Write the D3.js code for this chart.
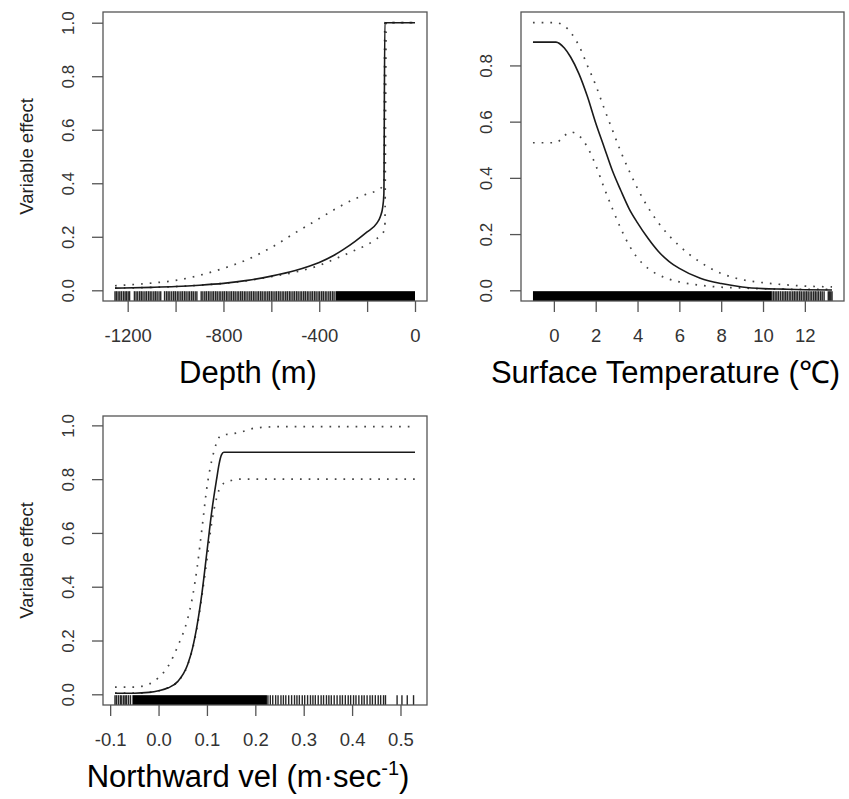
<!DOCTYPE html>
<html>
<head>
<meta charset="utf-8">
<script src="https://cdn.jsdelivr.net/npm/d3@7"></script>
<style>
  html, body { margin: 0; padding: 0; background: #fff; }
  svg { display: block; font-family: "Liberation Sans", Arial, Helvetica, sans-serif; }
</style>
</head>
<body>
<svg id="chart" width="849" height="799"></svg>
<script>
// ---------------- Panel 1: Depth ----------------
const depthX     = [-1253,-1100,-1000,-900,-800,-700,-600,-500,-400,-340,-300,-250,-200,-160,-145,-135,-130,-126,-120,-60,0];
const depthFit   = [0.008,0.011,0.014,0.019,0.026,0.037,0.053,0.074,0.104,0.130,0.152,0.183,0.218,0.250,0.275,0.310,0.360,1,1,1,1];
const depthLower = [0.008,0.011,0.014,0.019,0.026,0.036,0.051,0.068,0.093,0.115,0.130,0.150,0.170,0.193,0.203,0.213,0.220,0.230,1,1,1];
const depthUpper = [0.017,0.027,0.037,0.056,0.082,0.115,0.160,0.215,0.268,0.300,0.320,0.342,0.360,0.372,0.380,0.390,0.400,1,1,1,1];
const depthTicks  = [-1200,-1000,-800,-600,-400,-200,0];
const depthLabels = [-1200,-800,-400,0];
const depthRug = [-1253,-1247,-1240,-1233,-1226,-1218,-1211,-1205,-1198,-1192,-1172,-1165,-1158,-1150,-1143,-1136,-1128,-1121,-1113,-1106,-1099,-1091,-1084,-1077,-1069,-1062,-1046,-1038,-1031,-1024,-1016,-1008,-1001,-993,-986,-978,-971,-963,-956,-948,-941,-933,-926,-918,-911,-893,-886,-878,-871,-863,-856,-848,-841,-833,-826,-818,-811,-803,-796,-788,-781,-773,-766,-758,-751,-743,-736,-728,-721,-713,-706,-698,-690,-683,-675,-668,-660,-653,-645,-638,-630,-623,-615,-608,-600,-593,-585,-578,-570,-563,-555,-548,-540,-533,-525,-518,-510,-503,-495,-488,-480,-473,-465,-458,-450,-443,-435,-428,-420,-413,-405,-398,-390,-383,-375,-368,-360,-353,-345,-338];
const depthRugBands = [[-332, 0]];

// ---------------- Panel 2: Surface temperature ----------------
const tempX     = [-1,0.1,0.5,0.8,1.2,1.6,2.0,2.4,2.8,3.2,3.6,4.0,4.5,5.0,5.5,6,7,8,9,10,11,12,13.3];
const tempFit   = [0.883,0.883,0.862,0.830,0.770,0.690,0.595,0.510,0.425,0.355,0.290,0.240,0.185,0.138,0.103,0.078,0.043,0.024,0.012,0.006,0.004,0.002,0.001];
const tempLower = [0.525,0.525,0.550,0.563,0.550,0.510,0.445,0.365,0.290,0.220,0.160,0.115,0.078,0.055,0.040,0.030,0.018,0.011,0.008,0.005,0.004,0.003,0.003];
const tempUpper = [0.952,0.952,0.940,0.918,0.870,0.800,0.730,0.648,0.570,0.493,0.425,0.362,0.295,0.240,0.195,0.158,0.100,0.060,0.038,0.027,0.020,0.015,0.012];
const tempTicks  = [0,2,4,6,8,10,12];
const tempLabels = [0,2,4,6,8,10,12];
const tempRug = [10.42,10.5,10.58,10.66,10.74,10.83,10.92,11.0,11.08,11.16,11.25,11.33,11.42,11.5,11.58,11.66,11.75,11.83,11.92,12.0,12.08,12.16,12.25,12.33,12.42,12.5,12.58,12.66,12.75,12.83,12.92,13.12,13.18,13.24,13.3];
const tempRugBands = [[-1, 10.4]];

// ---------------- Panel 3: Northward velocity ----------------
const velX     = [-0.09,-0.05,-0.02,0,0.02,0.04,0.06,0.07,0.08,0.09,0.10,0.11,0.12,0.125,0.13,0.135,0.15,0.17,0.20,0.25,0.53];
const velFit   = [0.004,0.004,0.007,0.013,0.024,0.048,0.110,0.170,0.260,0.380,0.530,0.680,0.800,0.855,0.890,0.900,0.900,0.900,0.900,0.900,0.900];
const velLower = [0.004,0.004,0.007,0.013,0.024,0.048,0.108,0.166,0.252,0.370,0.500,0.640,0.730,0.760,0.775,0.785,0.795,0.800,0.800,0.800,0.800];
const velUpper = [0.027,0.027,0.038,0.062,0.105,0.180,0.280,0.360,0.475,0.620,0.770,0.870,0.935,0.955,0.963,0.965,0.968,0.975,0.990,0.995,0.995];
const velTicks  = [-0.1,0,0.1,0.2,0.3,0.4,0.5];
const velLabels = [-0.1,0,0.1,0.2,0.3,0.4,0.5];
const velRug = [-0.09,-0.087,-0.083,-0.079,-0.076,-0.072,-0.069,-0.066,-0.062,-0.058,0.226,0.231,0.236,0.242,0.247,0.253,0.258,0.263,0.269,0.275,0.281,0.286,0.291,0.297,0.302,0.308,0.314,0.319,0.324,0.330,0.336,0.341,0.347,0.352,0.357,0.363,0.369,0.375,0.380,0.386,0.392,0.397,0.403,0.408,0.414,0.420,0.425,0.431,0.437,0.442,0.448,0.454,0.459,0.465,0.469,0.493,0.503,0.514,0.527];
const velRugBands = [[-0.054, 0.224]];

const yTicks5 = [0,0.2,0.4,0.6,0.8,1.0];
const yTicks4 = [0,0.2,0.4,0.6,0.8];

const panels = [
  { left:103, top:12, w:324, h:289, xs:depthX, fit:depthFit, lower:depthLower, upper:depthUpper,
    xTicks:depthTicks, xLabels:depthLabels, fmt:d=>String(d), yTicks:yTicks5,
    rug:depthRug, bands:depthRugBands, title:[{t:"Depth (m)"}], ylab:true },
  { left:521, top:12, w:323, h:289, xs:tempX, fit:tempFit, lower:tempLower, upper:tempUpper,
    xTicks:tempTicks, xLabels:tempLabels, fmt:d=>String(d), yTicks:yTicks4,
    rug:tempRug, bands:tempRugBands, title:[{t:"Surface Temperature (\u2103)"}], ylab:false },
  { left:103, top:416, w:324, h:289, xs:velX, fit:velFit, lower:velLower, upper:velUpper,
    xTicks:velTicks, xLabels:velLabels, fmt:d=>d.toFixed(1), yTicks:yTicks5,
    rug:velRug, bands:velRugBands, title:[{t:"Northward vel (m\u00B7sec"},{t:"-1",sup:true},{t:")",after:true}], ylab:true }
];

const svg = d3.select("#chart");
svg.append("rect").attr("width",849).attr("height",799).attr("fill","#fff");

function pad(ext){ const d=(ext[1]-ext[0])*0.04; return [ext[0]-d, ext[1]+d]; }

panels.forEach(p => {
  const xExt = d3.extent(p.xs);
  const yExt = [0, d3.max(p.upper)];
  const x = d3.scaleLinear().domain(pad(xExt)).range([p.left, p.left+p.w]);
  const y = d3.scaleLinear().domain(pad(yExt)).range([p.top+p.h, p.top]);
  const g = svg.append("g");

  // rug
  const rugH = p.h*0.034;
  const bottom = p.top + p.h;
  g.selectAll("rect.band").data(p.bands).enter().append("rect")
    .attr("x", d=>x(d[0])).attr("width", d=>x(d[1])-x(d[0]))
    .attr("y", bottom-rugH).attr("height", rugH).attr("fill","#000");
  g.selectAll("line.rug").data(p.rug).enter().append("line")
    .attr("x1", d=>x(d)).attr("x2", d=>x(d))
    .attr("y1", bottom-rugH).attr("y2", bottom)
    .attr("stroke","#000").attr("stroke-width",1.4).attr("stroke-opacity",0.85);

  // curves
  const mk = vals => d3.line().x((d,i)=>x(p.xs[i])).y(d=>y(d)).curve(d3.curveMonotoneX)(vals);
  [p.lower, p.upper].forEach(vals => {
    g.append("path").attr("d", mk(vals)).attr("fill","none")
      .attr("stroke","#444").attr("stroke-width",1.7).attr("stroke-dasharray","1.7,7");
  });
  g.append("path").attr("d", mk(p.fit)).attr("fill","none")
    .attr("stroke","#1a1a1a").attr("stroke-width",1.6);

  // x axis
  const xa = g.append("g").attr("transform",`translate(0,${bottom})`)
    .call(d3.axisBottom(x).tickValues(p.xTicks).tickSize(11).tickSizeOuter(0)
      .tickFormat(d => p.xLabels.includes(d) ? p.fmt(d) : ""));
  xa.select(".domain").remove();
  xa.selectAll(".tick line").attr("stroke","#555").attr("stroke-width",1.3);
  xa.selectAll(".tick text").attr("y",41).attr("dy",0)
    .attr("font-size",18.5).attr("fill","#333").attr("font-family","Liberation Sans, Arial, sans-serif");

  // y axis
  const ya = g.append("g").attr("transform",`translate(${p.left},0)`)
    .call(d3.axisLeft(y).tickValues(p.yTicks).tickSize(11).tickSizeOuter(0)
      .tickFormat(d => d.toFixed(1)));
  ya.select(".domain").remove();
  ya.selectAll(".tick line").attr("stroke","#555").attr("stroke-width",1.3);
  ya.selectAll(".tick text").attr("transform","rotate(-90)")
    .attr("x",0).attr("y",-29).attr("dy",0).attr("text-anchor","middle")
    .attr("font-size",17).attr("fill","#333").attr("font-family","Liberation Sans, Arial, sans-serif");

  // box
  g.append("rect").attr("x",p.left).attr("y",p.top).attr("width",p.w).attr("height",p.h)
    .attr("fill","none").attr("stroke","#555").attr("stroke-width",1.3);

  // title
  const t = g.append("text").attr("x", p.left + p.w/2 - 17).attr("y", bottom + 82)
    .attr("text-anchor","middle").attr("font-size",31).attr("fill","#000");
  p.title.forEach(part => {
    const ts = t.append("tspan").text(part.t);
    if (part.sup) ts.attr("font-size",20).attr("dy",-12);
    if (part.after) ts.attr("dy",12);
  });

  if (p.ylab) {
    g.append("text").attr("transform",`translate(${p.left-70},${p.top+p.h/2}) rotate(-90)`)
      .attr("text-anchor","middle").attr("font-size",18.5).attr("fill","#222")
      .text("Variable effect");
  }
});
</script>
</body>
</html>
